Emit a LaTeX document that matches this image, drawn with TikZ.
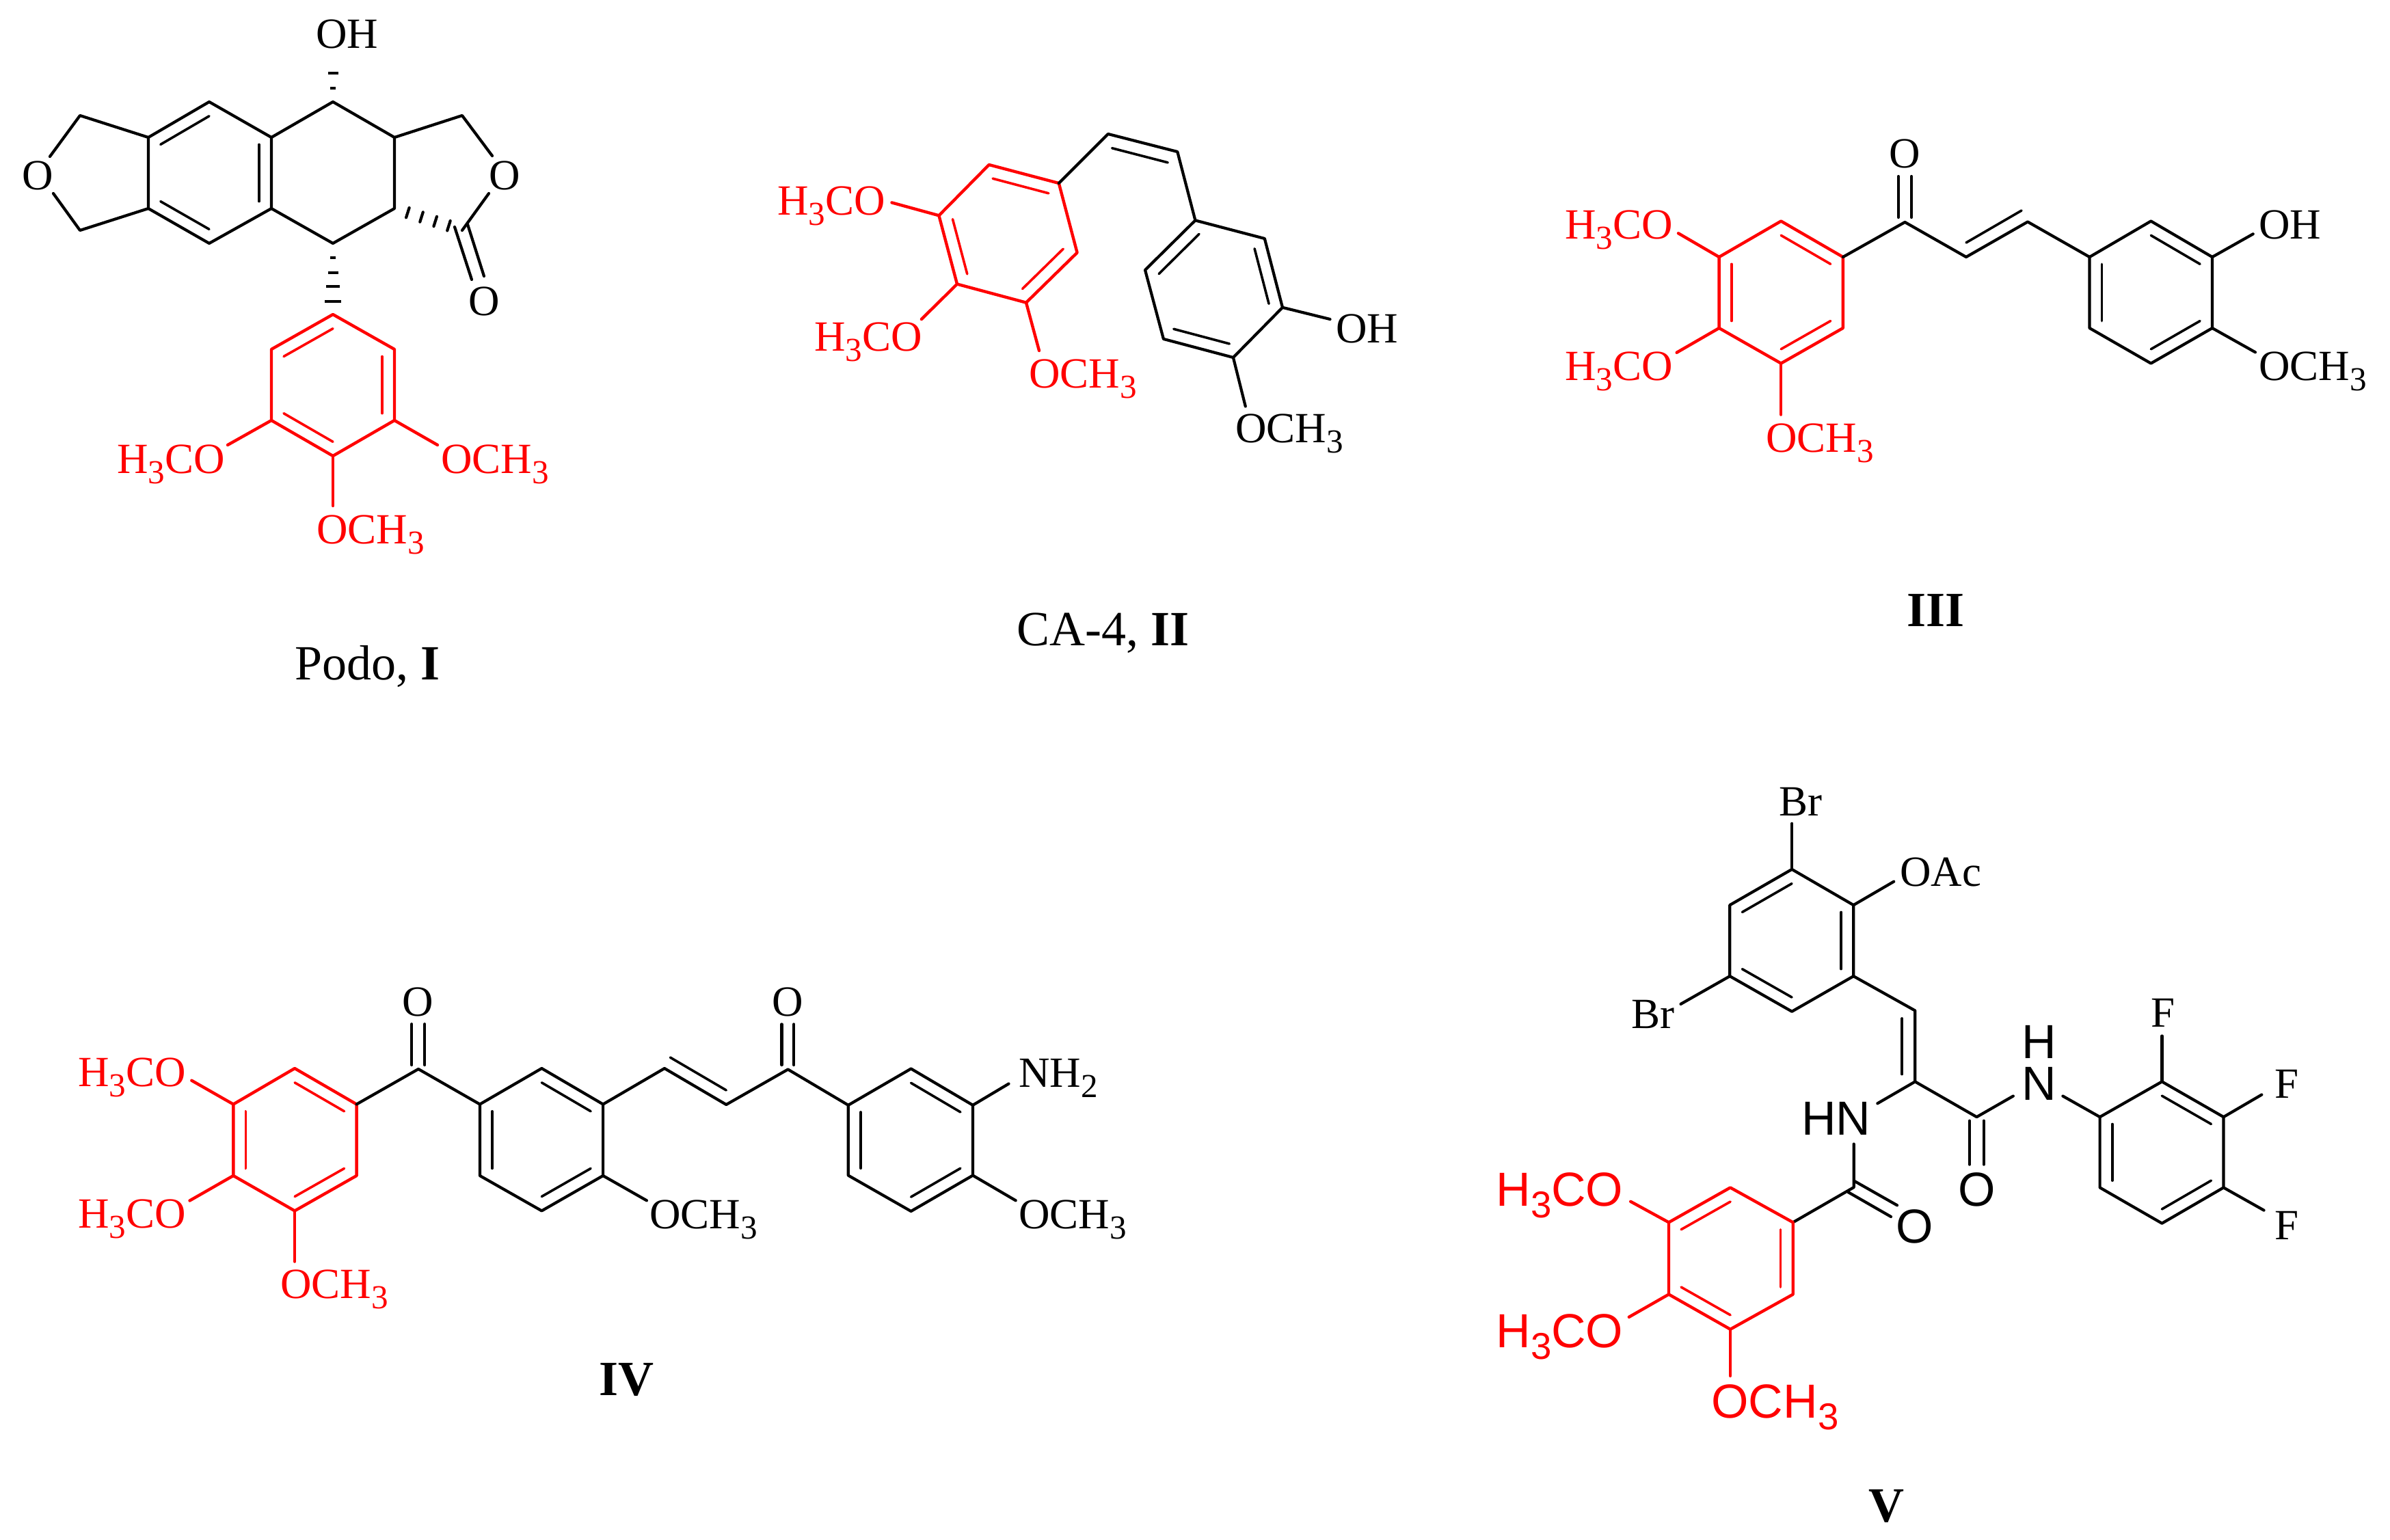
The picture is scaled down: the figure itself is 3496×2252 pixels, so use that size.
\documentclass[tikz,border=0pt]{standalone}
\usepackage{fontspec}
\setmainfont{Liberation Serif}
\newfontfamily\arialf{Liberation Sans}
\usetikzlibrary{calc}
\newcommand{\sbs}[1]{\raisebox{-.24em}{\scalebox{.78}{#1}}}
\newcommand{\atom}[3]{\coordinate (#1) at (#2,#3);}
\newcommand{\inb}[4]{\draw[#1,innerb] ($(#2)!.2!(#4)$) -- ($(#3)!.2!(#4)$);}
\newcommand{\hs}[5][]{\draw[hashb,#1] ($(#2)!#4!(#3)!#5pt!90:(#3)$) -- ($(#2)!#4!(#3)!#5pt!-90:(#3)$);}
\tikzset{
  bk/.style={draw=black,line width=4.2pt,line cap=round,line join=round},
  rd/.style={draw=red,line width=4.4pt,line cap=round,line join=round},
  innerb/.style={line width=3.6pt},
  hashb/.style={draw=black,line width=4.2pt},
  lab/.style={inner sep=0pt,outer sep=0pt,anchor=base west,font=\fontsize{63}{63}\selectfont},
  labc/.style={lab,anchor=base},
  rlab/.style={lab,text=red},
  slab/.style={inner sep=0pt,outer sep=0pt,anchor=base west,font=\fontsize{70}{70}\selectfont\arialf},
  slabc/.style={slab,anchor=base},
  rslab/.style={slab,text=red},
  captext/.style={inner sep=0pt,outer sep=0pt,anchor=base west,font=\fontsize{72}{72}\selectfont},
}
\begin{document}
\begin{tikzpicture}[x=1pt,y=-1pt]
\useasboundingbox (0,0) rectangle (3496,2252);
% ---------- I
\atom{a1}{117}{169}\atom{a2}{217}{201}\atom{a3}{306}{149}\atom{a4}{397}{201}\atom{a5}{487}{149}\atom{a6}{577}{201}
\atom{a7}{676}{169}\atom{a8}{676}{337}\atom{a9}{577}{305}\atom{a10}{487}{356}\atom{a11}{397}{305}\atom{a12}{306}{356}
\atom{a13}{217}{305}\atom{a14}{117}{337}\atom{ac}{306}{253}
\atom{ao1}{73}{229}\atom{ao2}{78}{283}\atom{ao3}{720}{228}\atom{ao4}{715}{283}
\atom{ad1}{665}{332}\atom{ad2}{690}{409}\atom{ad3}{684}{328.3}\atom{ad4}{708}{404}
\atom{ahO}{487}{86}\atom{ahE}{681}{338}
\atom{r1}{487}{460}\atom{r2}{577}{511}\atom{r3}{577}{615}\atom{r4}{487}{667}\atom{r5}{397}{615}\atom{r6}{397}{511}\atom{rc}{487}{563.5}
\atom{re1}{333}{651}\atom{re2}{640}{651}\atom{re3}{487}{740}
\draw[bk] (ao1)--(a1)--(a2)--(a3)--(a4)--(a5)--(a6)--(a7)--(ao3);
\draw[bk] (a4)--(a11)--(a10)--(a9)--(a6);
\draw[bk] (a2)--(a13)--(a12)--(a11);
\draw[bk] (a13)--(a14)--(ao2);
\draw[bk] (ao4)--(a8);
\draw[bk] (ad1)--(ad2);\draw[bk] (ad3)--(ad4);
\inb{bk}{a2}{a3}{ac}\inb{bk}{a13}{a12}{ac}\inb{bk}{a4}{a11}{ac}
\hs{a5}{ahO}{1}{12}\hs{a5}{ahO}{.667}{7.5}\hs{a5}{ahO}{.317}{4}
\hs{a10}{r1}{.2}{4}\hs{a10}{r1}{.41}{7.5}\hs{a10}{r1}{.606}{10}\hs{a10}{r1}{.817}{12}
\hs[line cap=round]{a9}{ahE}{.186}{7.5}\hs[line cap=round]{a9}{ahE}{.38}{7.5}\hs[line cap=round]{a9}{ahE}{.574}{7.5}\hs[line cap=round]{a9}{ahE}{.764}{7.5}
\draw[rd] (r1)--(r2)--(r3)--(r4)--(r5)--(r6)--cycle;
\draw[rd] (r5)--(re1);\draw[rd] (r3)--(re2);\draw[rd] (r4)--(re3);
\inb{rd}{r1}{r6}{rc}\inb{rd}{r2}{r3}{rc}\inb{rd}{r5}{r4}{rc}
\node[lab] (aOH) at (462,70) {OH};
\node[labc] (aO1) at (55.5,277) {O};
\node[labc] (aO2) at (738,277) {O};
\node[labc] (aO3) at (708.5,461) {O};
\node[rlab] (aM1) at (171,692) {H\sbs{3}CO};
\node[rlab] (aM2) at (645,692) {OCH\sbs{3}};
\node[rlab] (aM3) at (463,795) {OCH\sbs{3}};
\node[captext] (capI) at (431,994) {Podo, \textbf{I}};
% ---------- II
\atom{b1}{1446.7}{241}\atom{b2}{1548.8}{268}\atom{b3}{1575.6}{369.6}\atom{b4}{1501}{442.7}\atom{b5}{1400}{415.6}\atom{b6}{1373.4}{315.3}\atom{bc}{1473.9}{341.9}
\atom{bv1}{1620.9}{196}\atom{bv2}{1722.3}{222}\atom{bv3}{1626.6}{216.7}\atom{bv4}{1708.2}{237.8}
\atom{k1}{1748.4}{322.4}\atom{k2}{1849.8}{349}\atom{k3}{1876}{449.8}\atom{k4}{1803.9}{523}\atom{k5}{1701.9}{495.9}\atom{k6}{1675}{395}\atom{kc}{1776.2}{422.7}
\atom{be1}{1304.5}{296.4}\atom{be2}{1347.9}{467}\atom{be3}{1520}{513}\atom{be4}{1945.5}{467}\atom{be5}{1821.8}{594.5}
\draw[rd] (b1)--(b2)--(b3)--(b4)--(b5)--(b6)--cycle;
\draw[rd] (b6)--(be1);\draw[rd] (b5)--(be2);\draw[rd] (b4)--(be3);
\inb{rd}{b1}{b2}{bc}\inb{rd}{b3}{b4}{bc}\inb{rd}{b5}{b6}{bc}
\draw[bk] (b2)--(bv1)--(bv2)--(k1);
\draw[bk,innerb] (bv3)--(bv4);
\draw[bk] (k1)--(k2)--(k3)--(k4)--(k5)--(k6)--cycle;
\draw[bk] (k3)--(be4);\draw[bk] (k4)--(be5);
\inb{bk}{k1}{k6}{kc}\inb{bk}{k2}{k3}{kc}\inb{bk}{k5}{k4}{kc}
\node[rlab] (bM1) at (1137,314) {H\sbs{3}CO};
\node[rlab] (bM2) at (1191,513) {H\sbs{3}CO};
\node[rlab] (bM3) at (1505,567) {OCH\sbs{3}};
\node[lab] (bOH) at (1954,501) {OH};
\node[lab] (bM4) at (1807,647) {OCH\sbs{3}};
\node[captext] (capII) at (1487,944) {CA-4, \textbf{II}};
% ---------- III
\atom{c1}{2605.2}{323.5}\atom{c2}{2695.8}{376}\atom{c3}{2695.8}{480}\atom{c4}{2605.2}{531.6}\atom{c5}{2514.6}{480}\atom{c6}{2514.6}{376}\atom{cc}{2605.2}{427.5}
\atom{cC}{2786.4}{325}\atom{cd1}{2776.8}{258}\atom{cd2}{2776.8}{318}\atom{cd3}{2796}{258}\atom{cd4}{2796}{318}
\atom{cv1}{2876}{376}\atom{cv2}{2966}{324.5}\atom{cv3}{2876}{355}\atom{cv4}{2957}{308}
\atom{l1}{3056.5}{376}\atom{l2}{3146.3}{323.5}\atom{l3}{3236}{376}\atom{l4}{3236}{480}\atom{l5}{3146.3}{531.6}\atom{l6}{3056.5}{480}\atom{lc}{3146.3}{427.7}
\atom{ce1}{2455}{341.3}\atom{ce2}{2452.6}{515.8}\atom{ce3}{2605.2}{606.6}\atom{ce4}{3295.7}{342.3}\atom{ce5}{3298.9}{515.3}
\draw[rd] (c1)--(c2)--(c3)--(c4)--(c5)--(c6)--cycle;
\draw[rd] (c6)--(ce1);\draw[rd] (c5)--(ce2);\draw[rd] (c4)--(ce3);
\inb{rd}{c1}{c2}{cc}\inb{rd}{c3}{c4}{cc}\inb{rd}{c5}{c6}{cc}
\draw[bk] (c2)--(cC)--(cv1)--(cv2)--(l1);
\draw[bk] (cd1)--(cd2);\draw[bk] (cd3)--(cd4);
\draw[bk,innerb] (cv3)--(cv4);
\draw[bk] (l1)--(l2)--(l3)--(l4)--(l5)--(l6)--cycle;
\draw[bk] (l3)--(ce4);\draw[bk] (l4)--(ce5);
\inb{bk}{l2}{l3}{lc}\inb{bk}{l4}{l5}{lc}\inb{bk}{l6}{l1}{lc}
\node[rlab] (cM1) at (2289,349) {H\sbs{3}CO};
\node[rlab] (cM2) at (2289,556.6) {H\sbs{3}CO};
\node[rlab] (cM3) at (2583,661) {OCH\sbs{3}};
\node[labc] (cO) at (2786.4,245.4) {O};
\node[lab] (cOH) at (3304,349) {OH};
\node[lab] (cM4) at (3304,556.6) {OCH\sbs{3}};
\node[captext,anchor=base] (capIII) at (2831,916) {\textbf{III}};
% ---------- IV
\atom{d1}{431.1}{1563}\atom{d2}{521.6}{1615.5}\atom{d3}{521.6}{1720}\atom{d4}{431.1}{1771.4}\atom{d5}{341.3}{1720}\atom{d6}{341.3}{1615.5}\atom{dc}{431.3}{1667}
\atom{dC}{612}{1564}\atom{dd1}{602.3}{1498.2}\atom{dd2}{602.3}{1558}\atom{dd3}{621.2}{1498.2}\atom{dd4}{621.2}{1558}
\atom{m1}{701.9}{1615.5}\atom{m2}{792.4}{1563}\atom{m3}{882.1}{1615.5}\atom{m4}{882.1}{1720}\atom{m5}{792.4}{1771.4}\atom{m6}{701.9}{1720}\atom{mc}{792}{1667}
\atom{dv1}{972}{1563}\atom{dv2}{1062.3}{1616}\atom{dv3}{980.4}{1547}\atom{dv4}{1062.3}{1595}
\atom{dD}{1152.6}{1564.5}\atom{dd5}{1143.4}{1498.4}\atom{dd6}{1143.4}{1558}\atom{dd7}{1161.2}{1498.4}\atom{dd8}{1161.2}{1558}
\atom{n1}{1240.8}{1616.8}\atom{n2}{1332.6}{1563.5}\atom{n3}{1423}{1616.8}\atom{n4}{1423}{1719.6}\atom{n5}{1332.6}{1772}\atom{n6}{1240.8}{1719.6}\atom{nc}{1332.3}{1667.5}
\atom{de1}{280.3}{1580.7}\atom{de2}{277.5}{1756.5}\atom{de3}{431.1}{1845.6}\atom{de4}{945.9}{1756.3}\atom{de5}{1475.5}{1585.5}\atom{de6}{1485.7}{1756.3}
\draw[rd] (d1)--(d2)--(d3)--(d4)--(d5)--(d6)--cycle;
\draw[rd] (d6)--(de1);\draw[rd] (d5)--(de2);\draw[rd] (d4)--(de3);
\inb{rd}{d1}{d2}{dc}\inb{rd}{d3}{d4}{dc}\inb{rd}{d5}{d6}{dc}
\draw[bk] (d2)--(dC)--(m1);
\draw[bk] (dd1)--(dd2);\draw[bk] (dd3)--(dd4);
\draw[bk] (m1)--(m2)--(m3)--(m4)--(m5)--(m6)--cycle;
\inb{bk}{m2}{m3}{mc}\inb{bk}{m4}{m5}{mc}\inb{bk}{m6}{m1}{mc}
\draw[bk] (m3)--(dv1)--(dv2)--(dD)--(n1);
\draw[bk,innerb] (dv3)--(dv4);
\draw[bk] (dd5)--(dd6);\draw[bk] (dd7)--(dd8);
\draw[bk] (n1)--(n2)--(n3)--(n4)--(n5)--(n6)--cycle;
\inb{bk}{n2}{n3}{nc}\inb{bk}{n4}{n5}{nc}\inb{bk}{n6}{n1}{nc}
\draw[bk] (m4)--(de4);\draw[bk] (n3)--(de5);\draw[bk] (n4)--(de6);
\node[rlab] (dM1) at (114,1589.4) {H\sbs{3}CO};
\node[rlab] (dM2) at (114,1796.7) {H\sbs{3}CO};
\node[rlab] (dM3) at (410,1899.5) {OCH\sbs{3}};
\node[labc] (dO1) at (611.4,1486) {O};
\node[labc] (dO2) at (1152.6,1486) {O};
\node[lab] (dM4) at (950,1797) {OCH\sbs{3}};
\node[lab] (dN) at (1490,1590.8) {NH\sbs{2}};
\node[lab] (dM5) at (1490,1797) {OCH\sbs{3}};
\node[captext,anchor=base] (capIV) at (916.5,2041.7) {\textbf{IV}};
% ---------- V
\atom{e1}{2621.1}{1271.8}\atom{e2}{2711.2}{1324.1}\atom{e3}{2711.2}{1428.1}\atom{e4}{2621.1}{1479.8}\atom{e5}{2530.3}{1428.1}\atom{e6}{2530.3}{1324.1}\atom{ec}{2620.8}{1375.9}
\atom{ee1}{2621.1}{1204.8}\atom{ee2}{2770.2}{1289.7}\atom{ee3}{2458.5}{1468.9}
\atom{ev1}{2801.3}{1478.5}\atom{ev2}{2801.3}{1582.4}\atom{ev3}{2782.2}{1489.9}\atom{ev4}{2782.2}{1571.6}
\atom{en1}{2746.3}{1614.3}\atom{eC}{2891.4}{1634.1}\atom{ed1}{2881}{1639.7}\atom{ed2}{2881}{1703.6}\atom{ed3}{2901.8}{1639.7}\atom{ed4}{2901.8}{1703.6}
\atom{en2}{2944.8}{1603.5}\atom{en3}{3017.4}{1603.5}
\atom{f1}{3071.6}{1634.1}\atom{f2}{3162.4}{1582.4}\atom{f3}{3252.5}{1634.1}\atom{f4}{3252.5}{1737.4}\atom{f5}{3162.4}{1789.7}\atom{f6}{3071.6}{1737.4}\atom{fc}{3162}{1686}
\atom{fe1}{3162.4}{1515.5}\atom{fe2}{3308.3}{1601.5}\atom{fe3}{3311.5}{1770.6}
\atom{en4}{2711.7}{1673.6}\atom{eA}{2711.7}{1737}
\atom{eo1}{2703.3}{1744}\atom{eo2}{2766}{1780}\atom{eo3}{2713.3}{1728.3}\atom{eo4}{2775}{1763.3}
\atom{g1}{2531}{1737.4}\atom{g2}{2622.7}{1788.3}\atom{g3}{2622.7}{1893.6}\atom{g4}{2531}{1944.7}\atom{g5}{2441}{1893.6}\atom{g6}{2441}{1788.3}\atom{gc}{2531.5}{1840.5}
\atom{ge1}{2385.2}{1757.8}\atom{ge2}{2382.8}{1926.8}\atom{ge3}{2531}{2012.9}
\draw[bk] (e1)--(e2)--(e3)--(e4)--(e5)--(e6)--cycle;
\inb{bk}{e1}{e6}{ec}\inb{bk}{e2}{e3}{ec}\inb{bk}{e5}{e4}{ec}
\draw[bk] (e1)--(ee1);\draw[bk] (e2)--(ee2);\draw[bk] (e5)--(ee3);
\draw[bk] (e3)--(ev1)--(ev2)--(eC)--(en2);
\draw[bk,innerb] (ev3)--(ev4);
\draw[bk] (ev2)--(en1);
\draw[bk] (ed1)--(ed2);\draw[bk] (ed3)--(ed4);
\draw[bk] (en3)--(f1);
\draw[bk] (f1)--(f2)--(f3)--(f4)--(f5)--(f6)--cycle;
\inb{bk}{f2}{f3}{fc}\inb{bk}{f4}{f5}{fc}\inb{bk}{f6}{f1}{fc}
\draw[bk] (f2)--(fe1);\draw[bk] (f3)--(fe2);\draw[bk] (f4)--(fe3);
\draw[bk] (en4)--(eA)--(g2);
\draw[bk] (eo1)--(eo2);\draw[bk] (eo3)--(eo4);
\draw[rd] (g1)--(g2)--(g3)--(g4)--(g5)--(g6)--cycle;
\inb{rd}{g1}{g6}{gc}\inb{rd}{g2}{g3}{gc}\inb{rd}{g5}{g4}{gc}
\draw[rd] (g6)--(ge1);\draw[rd] (g5)--(ge2);\draw[rd] (g4)--(ge3);
\node[lab] (eBr1) at (2602.8,1193.3) {Br};
\node[lab] (eOAc) at (2779,1296) {OAc};
\node[lab] (eBr2) at (2386.8,1504.6) {Br};
\node[lab] (eF1) at (3146.5,1502.7) {F};
\node[lab] (eF2) at (3327.5,1606.6) {F};
\node[lab] (eF3) at (3327.5,1813.3) {F};
\node[slab] (eHN) at (2635,1660.8) {HN};
\node[slabc] (eN) at (2982.3,1609.2) {N};
\node[slabc] (eH) at (2982.3,1548.6) {H};
\node[slabc] (eO1) at (2891.4,1764.2) {O};
\node[slabc] (eO2) at (2801,1818) {O};
\node[rslab] (eM1) at (2188.5,1764.2) {H\sbs{3}CO};
\node[rslab] (eM2) at (2188.5,1971.4) {H\sbs{3}CO};
\node[rslab] (eM3) at (2503.5,2074.7) {OCH\sbs{3}};
\node[captext,anchor=base] (capV) at (2759,2226) {\textbf{V}};
\end{tikzpicture}
\end{document}
